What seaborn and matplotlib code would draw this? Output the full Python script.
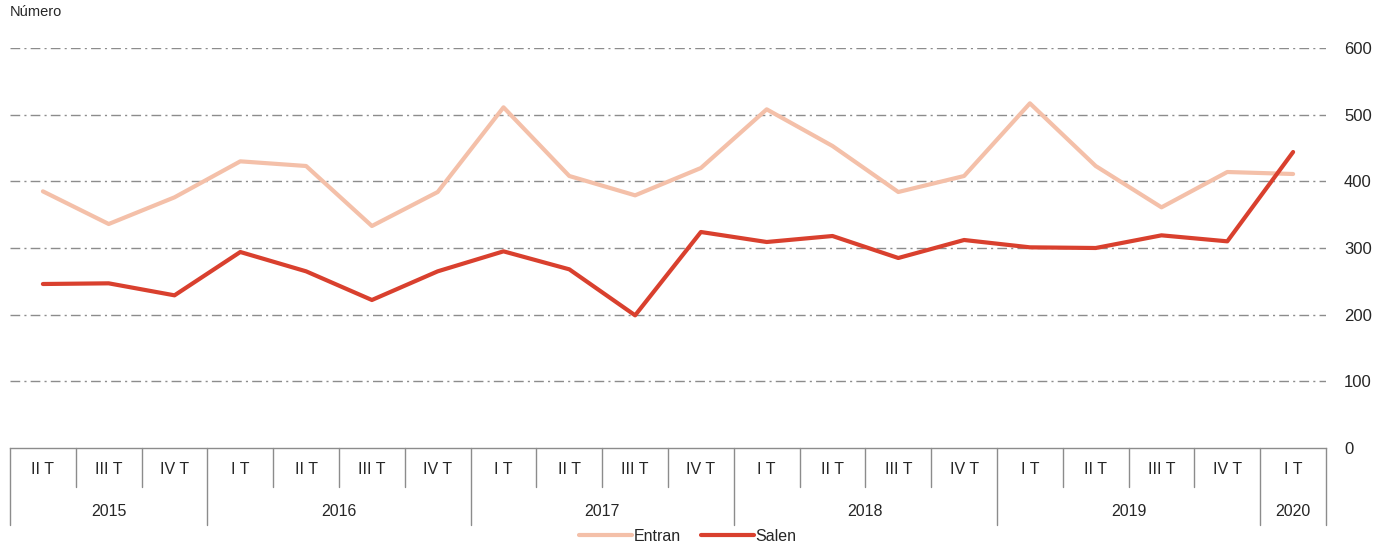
import numpy as np
import pandas as pd
import matplotlib.pyplot as plt
import matplotlib.transforms as mtransforms
import seaborn as sns

sns.set_style('white')
plt.rcParams['font.family'] = ['Liberation Sans', 'DejaVu Sans']

quarters = ["II T", "III T", "IV T",
            "I T", "II T", "III T", "IV T",
            "I T", "II T", "III T", "IV T",
            "I T", "II T", "III T", "IV T",
            "I T", "II T", "III T", "IV T",
            "I T"]
years = ["2015", "2016", "2017", "2018", "2019", "2020"]
quarters_per_year = [3, 4, 4, 4, 4, 1]

entran = [385, 336, 376, 430, 423, 333, 384, 511, 408, 379, 420,
          508, 453, 384, 408, 517, 423, 361, 414, 411]
salen = [246, 247, 229, 294, 265, 222, 265, 295, 268, 199, 324,
         309, 318, 285, 312, 301, 300, 319, 310, 444]

series_names = ["Entran", "Salen"]
colors = {"Entran": "#F4C0A9", "Salen": "#D9402E"}

n = len(quarters)
df = pd.DataFrame({
    "pos": list(range(n)) * 2,
    "valor": entran + salen,
    "serie": ["Entran"] * n + ["Salen"] * n,
})

fig = plt.figure(figsize=(13.76, 5.42), dpi=100)
ax = fig.add_axes([10 / 1376, 94 / 542, 1316 / 1376, 400 / 542])

sns.lineplot(data=df, x="pos", y="valor", hue="serie", hue_order=series_names,
             palette=colors, linewidth=3, ax=ax, legend=True)

ax.set_xlim(-0.5, n - 0.5)
ax.set_ylim(0, 600)
ax.set_yticks(range(0, 601, 100))
ax.yaxis.tick_right()
ax.tick_params(axis='y', length=0, pad=13, labelsize=12)
ax.set_xticks([])
ax.set_xlabel("")
ax.set_ylabel("")
for t in ax.get_yticklabels():
    t.set_horizontalalignment('left')

grid_color = "#8c8c8c"
for v in range(100, 601, 100):
    ax.axhline(v, color=grid_color, linewidth=1, linestyle=(0, (7, 3, 1.5, 3)), zorder=0)

for s in ["top", "left", "right"]:
    ax.spines[s].set_visible(False)
ax.spines["bottom"].set_color(grid_color)
ax.spines["bottom"].set_linewidth(1)

# category axis box
trans = mtransforms.blended_transform_factory(ax.transData, ax.transAxes)
year_edges = np.concatenate([[0], np.cumsum(quarters_per_year)]) - 0.5
for i in range(n + 1):
    edge = i - 0.5
    bottom = -0.1925 if np.isclose(year_edges, edge).any() else -0.0975
    ax.plot([edge, edge], [0, bottom], transform=trans, color=grid_color,
            linewidth=1, clip_on=False)
for i, q in enumerate(quarters):
    ax.text(i, -0.055, q, transform=trans, ha='center', va='center', fontsize=11.5)
for k, y in enumerate(years):
    mid = (year_edges[k] + year_edges[k + 1]) / 2
    ax.text(mid, -0.16, y, transform=trans, ha='center', va='center', fontsize=11.5)

ax.legend_.remove()
handles, labels = ax.get_legend_handles_labels()
fig.legend(handles, labels, loc='lower center', bbox_to_anchor=(0.5, -0.03),
           ncol=2, frameon=False, fontsize=11.5, handlelength=3.3,
           columnspacing=1.3, handletextpad=0.1)

fig.text(10 / 1376, 1 - 12 / 542, "Número", ha='left', va='center', fontsize=10.5)

fig.savefig("out.png", dpi=100)
